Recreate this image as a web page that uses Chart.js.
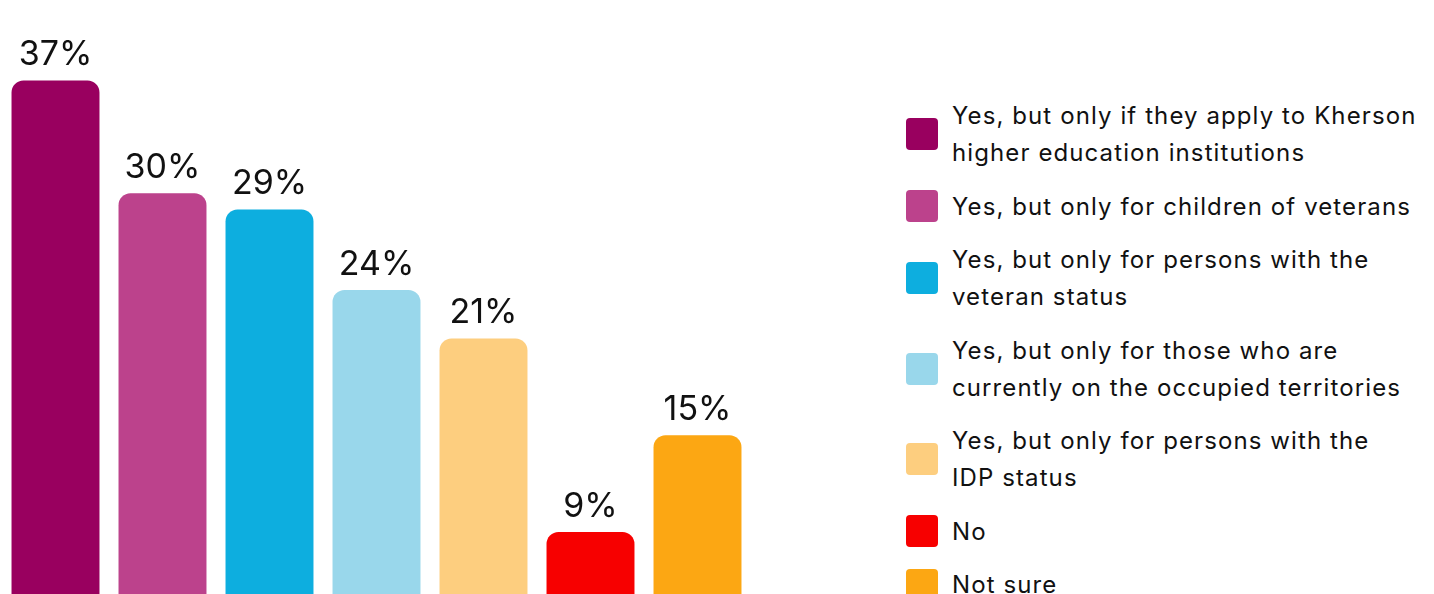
<!DOCTYPE html>
<html>
<head>
<meta charset="utf-8">
<script src="https://cdn.jsdelivr.net/npm/chart.js@4.4.1/dist/chart.umd.min.js"></script>
<style>
  html, body { margin: 0; padding: 0; background: #fff; overflow: hidden; width: 1434px; height: 594px; }
  .chart-box { position: absolute; left: 0; top: 0; width: 755px; height: 677px; }
  .legend { position: absolute; left: 906px; top: 97px; display: flex; flex-direction: column; gap: 16.5px;
    font-family: Inter, "Noto Sans", sans-serif; font-size: 24px; line-height: 37px; letter-spacing: 1.1px; color: #111; }
  .legend-item { display: flex; align-items: center; }
  .legend-box { width: 32px; height: 32px; border-radius: 4px; flex: none; margin-right: 14px; }
</style>
</head>
<body>
<div class="chart-box"><canvas id="chart"></canvas></div>
<div class="legend" id="legend"></div>
<script>
const categories = [
  ["Yes, but only if they apply to Kherson", "higher education institutions"],
  ["Yes, but only for children of veterans"],
  ["Yes, but only for persons with the", "veteran status"],
  ["Yes, but only for those who are", "currently on the occupied territories"],
  ["Yes, but only for persons with the", "IDP status"],
  ["No"],
  ["Not sure"]
];
const values = [37, 30, 29, 24, 21, 9, 15];
const colors = ["#99005F", "#BC428C", "#0DAEDF", "#99D7EB", "#FDCE7F", "#F70000", "#FCA713"];

// legend in html, one row per category
const legendEl = document.getElementById("legend");
categories.forEach((lines, i) => {
  const item = document.createElement("div");
  item.className = "legend-item";
  const box = document.createElement("div");
  box.className = "legend-box";
  box.style.background = colors[i];
  const text = document.createElement("div");
  text.innerHTML = lines.join("<br>");
  item.appendChild(box);
  item.appendChild(text);
  legendEl.appendChild(item);
});

// percent labels above each bar
const valueLabels = {
  id: "valueLabels",
  afterDatasetsDraw(chart) {
    const ctx = chart.ctx;
    const meta = chart.getDatasetMeta(0);
    ctx.save();
    ctx.font = "34px Inter, 'Noto Sans', sans-serif";
    ctx.fillStyle = "#111";
    ctx.textAlign = "center";
    ctx.textBaseline = "alphabetic";
    meta.data.forEach((bar, i) => {
      ctx.fillText(values[i] + "%", bar.x, bar.y - 15);
    });
    ctx.restore();
  }
};

new Chart(document.getElementById("chart").getContext("2d"), {
  type: "bar",
  data: {
    labels: categories.map(c => c.join(" ")),
    datasets: [{
      data: values,
      backgroundColor: colors,
      borderRadius: 12,
      borderSkipped: "start",
      barPercentage: 0.822,
      categoryPercentage: 1
    }]
  },
  options: {
    responsive: true,
    maintainAspectRatio: false,
    animation: false,
    layout: { padding: { left: 2, right: 4, top: 32, bottom: 0 } },
    scales: {
      x: { display: false },
      y: { display: false, min: 0, max: 40 }
    },
    plugins: {
      legend: { display: false },
      tooltip: { enabled: false }
    }
  },
  plugins: [valueLabels]
});
</script>
</body>
</html>
